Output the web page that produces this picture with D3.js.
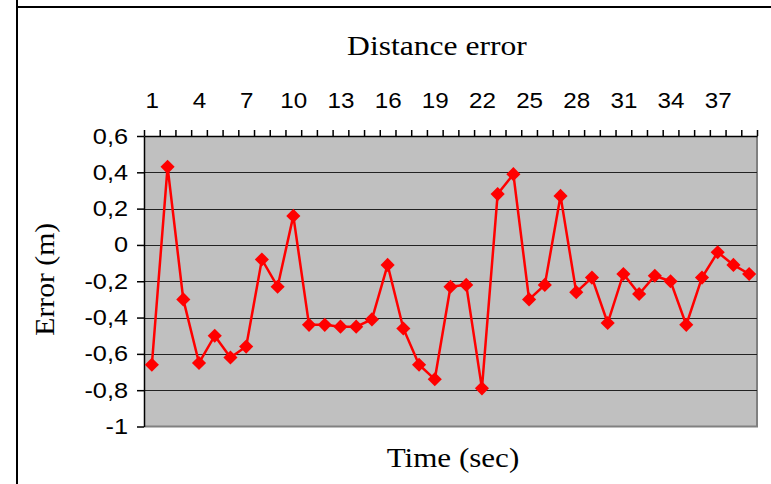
<!DOCTYPE html>
<html>
<head>
<meta charset="utf-8">
<script src="https://cdn.jsdelivr.net/npm/d3@7"></script>
<style>
  body { margin: 0; background: #fff; }
  svg { display: block; }
</style>
</head>
<body>
<div id="chart"></div>
<script>
/* --- データ --- */
const categories = d3.range(1, 40);
const errorValues = [
  -0.66, 0.43, -0.30, -0.65, -0.50, -0.62, -0.56, -0.08, -0.23, 0.16,
  -0.44, -0.44, -0.45, -0.45, -0.41, -0.11, -0.46, -0.66, -0.74, -0.23,
  -0.22, -0.79, 0.28, 0.39, -0.30, -0.22, 0.27, -0.26, -0.18, -0.43,
  -0.16, -0.27, -0.17, -0.20, -0.44, -0.18, -0.04, -0.11, -0.16
];
const xTickLabels = [1, 4, 7, 10, 13, 16, 19, 22, 25, 28, 31, 34, 37];
const yTicks = [-1, -0.8, -0.6, -0.4, -0.2, 0, 0.2, 0.4, 0.6];

/* --- ビューポート --- */
const width = 771, height = 484;
const plot = {left: 144, right: 757, top: 136, bottom: 426.5};
const sansFont = "'Liberation Sans', Arial, sans-serif";
const serifFont = "'Liberation Serif', 'Times New Roman', serif";

const svg = d3.select("#chart").append("svg")
    .attr("width", width)
    .attr("height", height);

// 文字を横に引き伸ばす（元画像は横長）
const stretch = function(sel, factor) {
    sel.each(function() {
        const len = this.getComputedTextLength();
        d3.select(this)
            .attr("textLength", len * factor)
            .attr("lengthAdjust", "spacingAndGlyphs");
    });
};

// 外枠（表の罫線）
svg.append("line").attr("x1", 17).attr("x2", 17).attr("y1", 0).attr("y2", height)
    .attr("stroke", "#000").attr("stroke-width", 2);
svg.append("line").attr("x1", 17).attr("x2", width).attr("y1", 7).attr("y2", 7)
    .attr("stroke", "#000").attr("stroke-width", 2);

/*--- スケール ---*/
const xScale = d3.scaleLinear()
    .domain([0.5, categories.length + 0.5])
    .range([plot.left, plot.right]);

const yScale = d3.scaleLinear()
    .domain([-1, 0.6])
    .range([plot.bottom, plot.top]);

const fmt = v => d3.format("~g")(+v.toFixed(1)).replace(".", ",").replace("−", "-");

/*--- プロットエリア ---*/
svg.append("rect")
    .attr("x", plot.left).attr("y", plot.top)
    .attr("width", plot.right - plot.left)
    .attr("height", plot.bottom - plot.top)
    .attr("fill", "#c0c0c0");

// 右と下の影
svg.append("path")
    .attr("d", `M${plot.left},${plot.bottom}H${plot.right}V${plot.top}`)
    .attr("fill", "none").attr("stroke", "#808080").attr("stroke-width", 2);

// グリッド線
svg.append("g")
    .selectAll("line")
    .data(yTicks.filter(d => d > -1 && d < 0.6))
    .enter().append("line")
    .attr("x1", plot.left).attr("x2", plot.right)
    .attr("y1", d => Math.round(yScale(d)) + 0.5)
    .attr("y2", d => Math.round(yScale(d)) + 0.5)
    .attr("stroke", "#222").attr("stroke-width", 1);

/*--- 軸 ---*/
const yAxis = d3.axisLeft(yScale)
    .tickValues(yTicks)
    .tickFormat(fmt)
    .tickSize(7)
    .tickPadding(9)
    .tickSizeOuter(0);

svg.append("g")
    .attr("transform", `translate(${plot.left},0)`)
    .call(yAxis)
    .call(g => g.selectAll("line, path").attr("stroke", "#000").attr("stroke-width", 1.5))
    .call(g => g.selectAll("text")
        .attr("font-family", sansFont).attr("font-size", 22).attr("fill", "#000")
        .call(stretch, 1.15));

// 上側の目盛り（カテゴリ境界）
const xTickAxis = d3.axisTop(xScale)
    .tickValues(d3.range(0.5, categories.length + 1, 1))
    .tickFormat("")
    .tickSize(6)
    .tickSizeOuter(0);

svg.append("g")
    .attr("transform", `translate(0,${plot.top})`)
    .call(xTickAxis)
    .call(g => g.selectAll("line, path").attr("stroke", "#000").attr("stroke-width", 1.5));

const xLabelAxis = d3.axisTop(xScale)
    .tickValues(xTickLabels)
    .tickFormat(d3.format("d"))
    .tickSize(0)
    .tickPadding(28);

svg.append("g")
    .attr("transform", `translate(0,${plot.top})`)
    .call(xLabelAxis)
    .call(g => g.select(".domain").remove())
    .call(g => g.selectAll("text")
        .attr("font-family", sansFont).attr("font-size", 22).attr("fill", "#000")
        .call(stretch, 1.1));

/*--- タイトル ---*/
svg.append("text")
    .attr("x", 437).attr("y", 55)
    .attr("text-anchor", "middle")
    .attr("font-family", serifFont).attr("font-size", 27)
    .text("Distance error")
    .call(stretch, 1.17);

svg.append("text")
    .attr("x", 453).attr("y", 467)
    .attr("text-anchor", "middle")
    .attr("font-family", serifFont).attr("font-size", 27)
    .text("Time (sec)")
    .call(stretch, 1.15);

svg.append("text")
    .attr("transform", `translate(54,${(plot.top + plot.bottom) / 2 - 2}) rotate(-90)`)
    .attr("text-anchor", "middle")
    .attr("font-family", serifFont).attr("font-size", 27)
    .text("Error (m)")
    .call(stretch, 1.1);

/*--- 折れ線 ---*/
const line = d3.line()
    .x((d, i) => xScale(categories[i]))
    .y(d => yScale(d));

svg.append("path")
    .datum(errorValues)
    .attr("d", line)
    .attr("fill", "none")
    .attr("stroke", "#ff0000")
    .attr("stroke-width", 2.5);

svg.append("g")
    .selectAll("path")
    .data(errorValues)
    .enter().append("path")
    .attr("d", d3.symbol().type(d3.symbolSquare).size(100))
    .attr("transform", (d, i) => `translate(${xScale(categories[i])},${yScale(d)}) rotate(45)`)
    .attr("fill", "#ff0000");
</script>
</body>
</html>
